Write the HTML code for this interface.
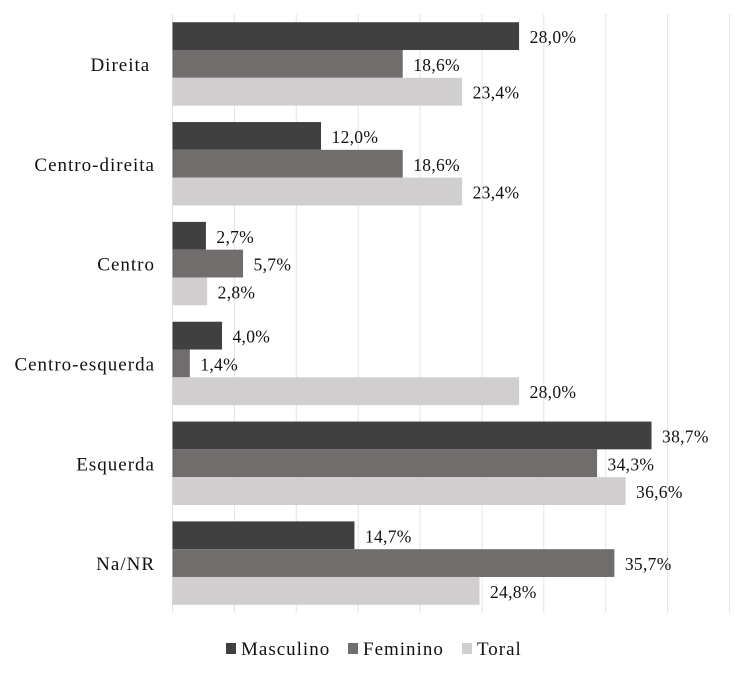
<!DOCTYPE html>
<html lang="pt">
<head>
<meta charset="utf-8">
<title>Posicionamento político por sexo</title>
<style>
html,body{margin:0;padding:0;background:#fff;width:748px;height:676px;overflow:hidden}
svg{display:block}
text{font-family:"Liberation Serif",serif;fill:#111}
.cat{font-size:19px;letter-spacing:1px}
.val{font-size:17.5px;letter-spacing:.3px}
.leg{font-size:19px;letter-spacing:1px}
</style>
</head>
<body>
<svg id="chart" width="748" height="676" viewBox="0 0 748 676" xmlns="http://www.w3.org/2000/svg"></svg>
<script>
const categories = ["Direita\u2009", "Centro-direita", "Centro", "Centro-esquerda", "Esquerda", "Na/NR"];
const masculino = [28.0, 12.0, 2.7, 4.0, 38.7, 14.7];
const feminino = [18.6, 18.6, 5.7, 1.4, 34.3, 35.7];
const toral = [23.4, 23.4, 2.8, 28.0, 36.6, 24.8];
const seriesNames = ["Masculino", "Feminino", "Toral"];
const ticks = [0, 5, 10, 15, 20, 25, 30, 35, 40, 45];

const NS = "http://www.w3.org/2000/svg";
const svg = document.getElementById("chart");
const colors = ["#404040", "#716d6c", "#d0cecf"];
const seriesData = [masculino, feminino, toral];
const plot = {left: 172.5, right: 729.5, top: 14, bottom: 613};
const maxV = ticks[ticks.length - 1];
const x = v => plot.left + (v / maxV) * (plot.right - plot.left);
const bandH = (plot.bottom - plot.top) / categories.length;
const bandY = i => plot.top + i * bandH;
const barH = 27.8;
const barPad = (bandH - barH * seriesData.length) / 2;
const fmt = v => v.toFixed(1).replace(".", ",") + "%";

function make(tag, attrs, text) {
  const el = document.createElementNS(NS, tag);
  for (const k in attrs) el.setAttribute(k, attrs[k]);
  if (text !== undefined) el.textContent = text;
  svg.appendChild(el);
  return el;
}

ticks.forEach(t => {
  const g = make("line", {x1: x(t), x2: x(t), y1: plot.top, y2: plot.bottom, stroke: "#e3e3e8", "stroke-width": 1});
  
  
});

categories.forEach((c, i) => {
  const label = make("text", {class: "cat", x: 155, y: bandY(i) + bandH / 2 + 7, "text-anchor": "end"}, c);
  
  
  seriesData.forEach((s, j) => {
    const y = bandY(i) + barPad + j * barH;
    const bar = make("rect", {x: x(0), y: y, width: x(s[i]) - x(0), height: barH, fill: colors[j]});
    
    
    const val = make("text", {class: "val", x: x(s[i]) + 10.5, y: y + barH / 2 + 7}, fmt(s[i]));
    
    
  });
});

const legendSwatchX = [226, 348, 462];
const legendY = 655;
seriesNames.forEach((n, j) => {
  const sw = make("rect", {x: legendSwatchX[j], y: legendY - 12, width: 10, height: 11, fill: colors[j]});
  
  
  const t = make("text", {class: "leg", x: legendSwatchX[j] + 15, y: legendY}, n);
  
  
});
</script>
</body>
</html>
